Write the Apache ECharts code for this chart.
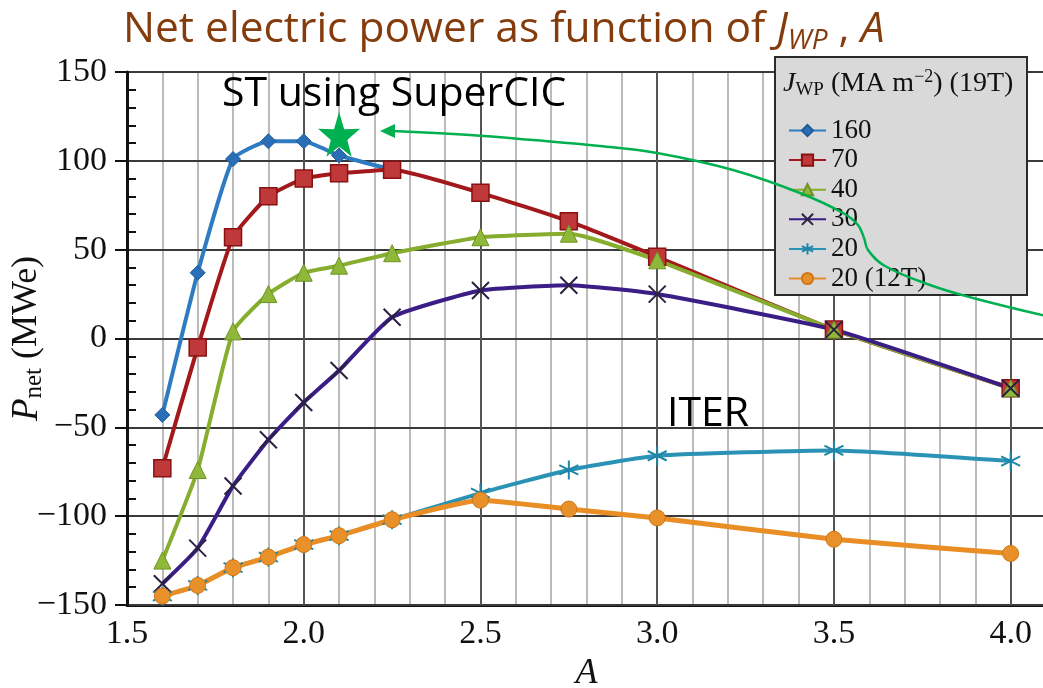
<!DOCTYPE html>
<html><head><meta charset="utf-8">
<script src="https://cdn.jsdelivr.net/npm/echarts@6/dist/echarts.min.js"></script>
<style>html,body{margin:0;padding:0;background:#fff}#c{width:1043px;height:688px}</style>
</head><body><div id="c"></div>
<script>
// ---- data ----
const A_160 = [1.6, 1.7, 1.8, 1.9, 2.0, 2.1, 2.25];
const A_ALL = [1.6, 1.7, 1.8, 1.9, 2.0, 2.1, 2.25, 2.5, 2.75, 3.0, 3.5, 4.0];
const P_160 = [-43, 37, 101, 111, 111, 103, 95];
const P_70 = [-73, -5, 57, 80, 90, 93, 95, 82, 66, 46, 5, -28];
const P_40 = [-125, -74, 4, 25, 37, 41, 48, 57, 59, 44, 5, -28];
const P_30 = [-138, -118, -83, -57, -36, -18, 12, 27, 30, 25, 5, -28];
const P_20 = [-145, -139, -129, -123, -116, -111, -102, -87, -74, -66, -63, -69];
const P_20_12T = [-145, -139, -129, -123, -116, -111, -102, -91, -96, -101, -113, -121];
const SERIES_NAMES = ['160', '70', '40', '30', '20', '20 (12T)'];
const X_TICKS = [1.5, 2.0, 2.5, 3.0, 3.5, 4.0];
const Y_TICKS = [-150, -100, -50, 0, 50, 100, 150];
const ST_POINT = [2.1, 115];

const SERIF = '"Liberation Serif","Times New Roman",serif';
const SANS = '"Open Sans",sans-serif';
const zip = (xs, ys) => xs.map((x, i) => [x, ys[i]]);
const STAR = 'path://M50,0L61.8,35.1L98.9,34.5L69.1,56.7L79.4,90.5L50,70L20.6,90.5L30.9,56.7L1.1,34.5L38.2,35.1Z';
const XMARK = 'path://M0,0L10,10M10,0L0,10';
const ASTER = 'path://M5,0L5,10M0.7,2.5L9.3,7.5M0.7,7.5L9.3,2.5';

function lineSeries(name, data, color, symbol, size, itemStyle, lw) {
  return {
    type: 'line', name, data, symbol, symbolSize: size, smooth: 0.15,
    lineStyle: { color, width: lw || 4 },
    itemStyle, z: 2
  };
}

const chart = echarts.init(document.getElementById('c'), null, { renderer: 'canvas' });
chart.setOption({
  animation: false,
  backgroundColor: '#fff',
  title: {
    text: 'Net electric power as function of {i|J}{s|WP}{n| , }{i|A}',
    left: 118, top: 0,
    textStyle: {
      fontFamily: SANS, fontSize: 42.5, fontWeight: 'normal', color: '#843c0c', lineHeight: 50,
      rich: {
        i: { fontFamily: SANS, fontSize: 42.5, fontStyle: 'italic', color: '#843c0c', lineHeight: 50 },
        s: { fontFamily: SANS, fontSize: 28, fontStyle: 'italic', color: '#843c0c', verticalAlign: 'bottom', lineHeight: 27 },
        n: { fontFamily: SANS, fontSize: 42.5, color: '#843c0c', lineHeight: 50 }
      }
    }
  },
  grid: { left: 127, right: -3, top: 72, bottom: 83, outerBoundsMode: 'none', containLabel: false },
  legend: {
    data: SERIES_NAMES, orient: 'vertical', left: 788, top: 117, padding: 0,
    itemWidth: 37, itemHeight: 14, itemGap: 2.6, z: 10,
    textStyle: { fontFamily: SERIF, fontSize: 27, color: '#111', lineHeight: 22 }
  },
  xAxis: [{
    type: 'value', min: 1.5, max: 4.1, interval: 0.1, position: 'bottom',
    name: 'A', nameLocation: 'middle', nameGap: 44,
    nameTextStyle: { fontFamily: SERIF, fontSize: 36, fontStyle: 'italic', color: '#111' },
    axisLine: { show: true, onZero: false, lineStyle: { color: '#111', width: 3 } },
    axisTick: { show: false },
    axisLabel: {
      margin: 12, fontFamily: SERIF, fontSize: 34, color: '#111',
      formatter: v => X_TICKS.some(t => Math.abs(t - v) < 1e-6) ? v.toFixed(1) : ''
    },
    splitLine: { show: true, lineStyle: { color: '#ababab', width: 1.6 } }
  }, {
    type: 'value', min: 1.5, max: 4.1, interval: 0.5, position: 'bottom', z: 1,
    axisLine: { show: false }, axisTick: { show: false }, axisLabel: { show: false },
    splitLine: { show: true, lineStyle: { color: '#555', width: 2 } }
  }],
  yAxis: [{
    type: 'value', min: -150, max: 150, interval: 50, position: 'left', z: 1,
    name: '{i|P}{s|net}{n| (MWe)}', nameLocation: 'middle', nameGap: 80, nameMoveOverlap: false,
    nameTextStyle: {
      fontFamily: SERIF, fontSize: 36, color: '#111', lineHeight: 40,
      rich: {
        i: { fontFamily: SERIF, fontSize: 37, fontStyle: 'italic', color: '#111', lineHeight: 40 },
        s: { fontFamily: SERIF, fontSize: 25, color: '#111', verticalAlign: 'bottom', lineHeight: 25 },
        n: { fontFamily: SERIF, fontSize: 36, color: '#111', lineHeight: 40 }
      }
    },
    axisLine: { show: true, onZero: false, lineStyle: { color: '#111', width: 3 } },
    axisTick: { show: true, inside: false, length: 12, lineStyle: { color: '#111', width: 2 } },
    axisLabel: {
      margin: 20, fontFamily: SERIF, fontSize: 34, color: '#111',
      formatter: v => v < 0 ? '\u2212' + Math.abs(v) : String(v)
    },
    splitLine: { show: true, lineStyle: { color: '#3a3a3a', width: 2 } }
  }, {
    type: 'value', min: -150, max: 150, interval: 50, position: 'left', offset: 0,
    axisLine: { show: false }, axisLabel: { show: false },
    axisTick: { show: false, inside: true },
    minorTick: { show: true, splitNumber: 5, length: 9, lineStyle: { color: '#111', width: 2 } },
    splitLine: { show: false }
  }],
  series: [
    lineSeries('160', zip(A_160, P_160), '#2f7bc2', 'diamond', 15,
      { color: '#2a6fb5', borderColor: '#1f5a99', borderWidth: 1 }),
    lineSeries('70', zip(A_ALL, P_70), '#a3181a', 'rect', 17,
      { color: '#c0393a', borderColor: '#8a1012', borderWidth: 1.5 }),
    lineSeries('40', zip(A_ALL, P_40), '#86ad2e', 'triangle', 17,
      { color: '#8fb83a', borderColor: '#6f9322', borderWidth: 1 }),
    lineSeries('30', zip(A_ALL, P_30), '#3b1d86', XMARK, 17,
      { color: 'rgba(0,0,0,0)', borderColor: '#2a2140', borderWidth: 2 }),
    lineSeries('20', zip(A_ALL, P_20), '#2a93b5', ASTER, 19,
      { color: 'rgba(0,0,0,0)', borderColor: '#1f86a8', borderWidth: 2 }),
    lineSeries('20 (12T)', zip(A_ALL, P_20_12T), '#e88e25', 'circle', 16,
      { color: '#e8902a', borderColor: '#d07818', borderWidth: 1 }, 5),
    {
      type: 'scatter', name: 'ST using SuperCIC', data: [ST_POINT], symbol: STAR,
      symbolSize: [42, 45], itemStyle: { color: '#00b050', opacity: 1 }, z: 6
    }
  ],
  graphic: [
    { type: 'rect', z: 3, shape: { x: 775, y: 57, width: 252, height: 238 },
      style: { fill: '#d9d9d9', stroke: '#2a2a2a', lineWidth: 2 } },
    { type: 'text', z: 11, left: 783, top: 68,
      style: {
        text: '{i|J}{s|WP}{n| (MA m}{p|\u22122}{n|) (19T)}',
        rich: {
          i: { fontFamily: SERIF, fontSize: 28, fontStyle: 'italic', fill: '#111', lineHeight: 32 },
          s: { fontFamily: SERIF, fontSize: 19, fill: '#111', verticalAlign: 'bottom', lineHeight: 18 },
          n: { fontFamily: SERIF, fontSize: 28, fill: '#111', lineHeight: 32 },
          p: { fontFamily: SERIF, fontSize: 18, fill: '#111', verticalAlign: 'top', lineHeight: 18 }
        }
      } },
    { type: 'text', z: 8, left: 222, top: 74,
      style: { text: 'ST using SuperCIC', fontFamily: SANS, fontSize: 41, fill: '#000' } },
    { type: 'text', z: 8, left: 667, top: 394,
      style: { text: 'ITER', fontFamily: SANS, fontSize: 41, fill: '#000' } },
    { type: 'polyline', z: 20,
      shape: { smooth: 0.4, points: [[392, 131], [470, 135], [533, 140], [600, 146], [657, 153], [733, 170], [800, 193], [843, 213], [858, 225], [864, 238], [868, 250], [885, 266], [930, 285], [973, 298], [1046, 316]] },
      style: { stroke: '#00b050', lineWidth: 2.5, fill: null } },
    { type: 'polygon', z: 20, shape: { points: [[380, 131], [395, 124], [395, 138]] },
      style: { fill: '#00b050' } }
  ]
});
</script></body></html>
